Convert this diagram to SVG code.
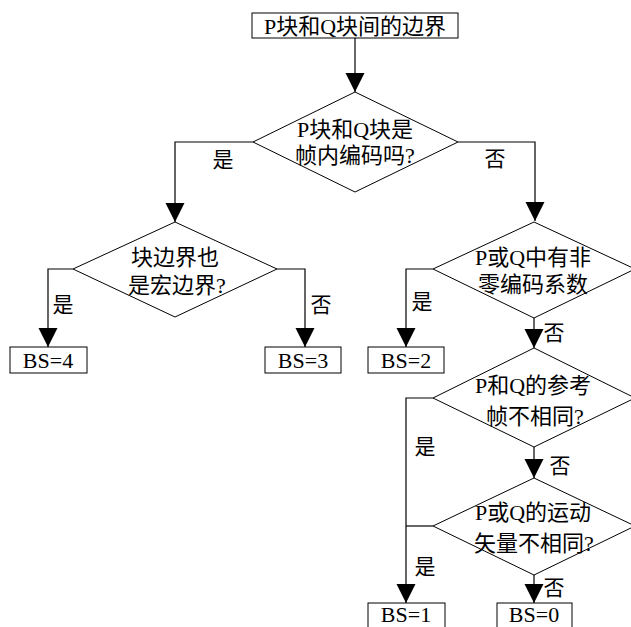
<svg xmlns="http://www.w3.org/2000/svg" width="631" height="627" viewBox="0 0 631 627">
<style>
.shape{fill:#fff;stroke:#000;stroke-width:1}
.conn{fill:none;stroke:#000;stroke-width:1.2}
.t{font-family:"Liberation Serif","Noto Sans CJK SC",serif;font-size:22px;fill:#000;text-anchor:middle}
.lbl{font-family:"Noto Sans CJK SC",sans-serif;font-size:21px;fill:#000;text-anchor:middle}
</style>
<defs>
<marker id="arr" markerUnits="userSpaceOnUse" markerWidth="20" markerHeight="20" refX="19" refY="10" orient="auto">
<path d="M0,0.5 L19,10 L0,19.5 z" fill="#000"/>
</marker>
</defs>
<rect width="631" height="627" fill="#fff"/>
<g id="connectors">
<path class="conn" d="M355,38 V92" marker-end="url(#arr)"/>
<path class="conn" d="M253,142 H175 V222" marker-end="url(#arr)"/>
<path class="conn" d="M458,142 H535 V221" marker-end="url(#arr)"/>
<path class="conn" d="M73,269 H48 V347" marker-end="url(#arr)"/>
<path class="conn" d="M277,269 H305 V347" marker-end="url(#arr)"/>
<path class="conn" d="M433,269 H406 V347" marker-end="url(#arr)"/>
<path class="conn" d="M534,318 V348" marker-end="url(#arr)"/>
<path class="conn" d="M433,398 H406 V603" marker-end="url(#arr)"/>
<path class="conn" d="M534,447 V478" marker-end="url(#arr)"/>
<path class="conn" d="M433,526 H406"/>
<path class="conn" d="M534,575 V603" marker-end="url(#arr)"/>
</g>
<g id="labels">
<text class="lbl" x="223" y="167">是</text>
<text class="lbl" x="495" y="166">否</text>
<text class="lbl" x="63" y="312">是</text>
<text class="lbl" x="321" y="312">否</text>
<text class="lbl" x="422" y="309">是</text>
<text class="lbl" x="554" y="340">否</text>
<text class="lbl" x="425" y="454">是</text>
<text class="lbl" x="560" y="473">否</text>
<text class="lbl" x="425" y="574">是</text>
<text class="lbl" x="554" y="595">否</text>
</g>
<g id="start">
<rect class="shape" x="252" y="13" width="206" height="25"/>
<text class="t" x="355" y="34">P块和Q块间的边界</text>
</g>
<g id="d1">
<polygon class="shape" points="355,92 458,142 355,192 253,142"/>
<text class="t" x="355" y="137">P块和Q块是</text>
<text class="t" x="355" y="163">帧内编码吗?</text>
</g>
<g id="d2">
<polygon class="shape" points="175,222 277,269 175,317 73,269"/>
<text class="t" x="175" y="265">块边界也</text>
<text class="t" x="177" y="293">是宏边界?</text>
</g>
<g id="d3">
<polygon class="shape" points="534,222 635,269 534,318 433,269"/>
<text class="t" x="533" y="265">P或Q中有非</text>
<text class="t" x="533" y="292">零编码系数</text>
</g>
<g id="d4">
<polygon class="shape" points="534,348 635,398 534,447 433,398"/>
<text class="t" x="533" y="393">P和Q的参考</text>
<text class="t" x="535" y="424">帧不相同?</text>
</g>
<g id="d5">
<polygon class="shape" points="534,478 635,526 534,575 433,526"/>
<text class="t" x="533" y="520">P或Q的运动</text>
<text class="t" x="534" y="551">矢量不相同?</text>
</g>
<g id="bs4">
<rect class="shape" x="10" y="347" width="77" height="26"/>
<text class="t" x="48" y="368">BS=4</text>
</g>
<g id="bs3">
<rect class="shape" x="265" y="347" width="76" height="26"/>
<text class="t" x="303" y="368">BS=3</text>
</g>
<g id="bs2">
<rect class="shape" x="368" y="347" width="76" height="26"/>
<text class="t" x="406" y="368">BS=2</text>
</g>
<g id="bs1">
<rect class="shape" x="368" y="603" width="77" height="30"/>
<text class="t" x="406" y="622">BS=1</text>
</g>
<g id="bs0">
<rect class="shape" x="497" y="603" width="75" height="30"/>
<text class="t" x="534" y="622">BS=0</text>
</g>
</svg>
